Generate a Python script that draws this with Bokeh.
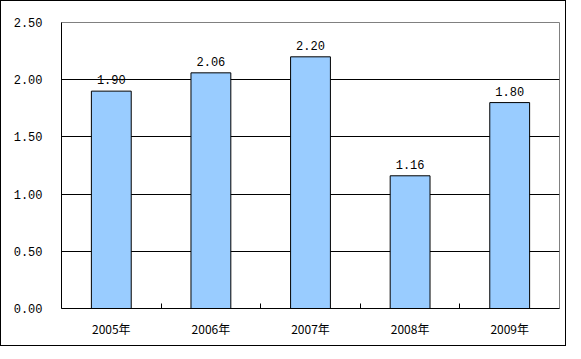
from bokeh.plotting import figure
from bokeh.models import ColumnDataSource, FixedTicker, NumeralTickFormatter, LabelSet, Range1d
from bokeh.core.properties import value
from bokeh.embed import file_html
from bokeh.resources import INLINE

years = ["2005年", "2006年", "2007年", "2008年", "2009年"]
values = [1.90, 2.06, 2.20, 1.16, 1.80]
value_labels = ["1.90", "2.06", "2.20", "1.16", "1.80"]
y_ticks = [0.0, 0.5, 1.0, 1.5, 2.0, 2.5]

xs = [i + 0.5 for i in range(len(years))]
src = ColumnDataSource(dict(x=xs, top=values, lab=value_labels))

p = figure(width=566, height=346, output_backend="svg", toolbar_location=None,
           x_range=Range1d(0, len(years)), y_range=Range1d(0, 2.5),
           min_border_left=60, min_border_right=8, min_border_top=21, min_border_bottom=39)
p.styles = {"border": "1px solid black", "box-sizing": "border-box"}
p.background_fill_color = "white"
p.border_fill_color = "white"
p.outline_line_color = "#808080"
p.outline_line_width = 1

p.vbar(x="x", top="top", width=0.4, bottom=0, source=src,
       fill_color="#99CCFF", line_color="black", line_width=1)

p.add_layout(LabelSet(x="x", y="top", text="lab", source=src, text_align="center",
                      text_baseline="bottom", y_offset=7, text_font=value("Liberation Mono"),
                      text_font_size=value("12px"), text_color=value("black")))

p.xgrid.visible = False
p.ygrid.ticker = FixedTicker(ticks=y_ticks[1:-1])
p.ygrid.grid_line_color = "black"
p.ygrid.grid_line_width = 1

xa = p.xaxis[0]
xa.ticker = FixedTicker(ticks=xs, minor_ticks=list(range(1, len(years))))
xa.major_label_overrides = {x: y for x, y in zip(xs, years)}
xa.major_tick_line_color = None
xa.minor_tick_line_color = "black"
xa.minor_tick_in = 5
xa.minor_tick_out = 0
xa.axis_line_color = "black"
xa.major_label_standoff = 5
xa.major_label_text_font = "Noto Sans CJK SC"
xa.major_label_text_font_size = "12px"
xa.major_label_text_color = "black"

ya = p.yaxis[0]
ya.ticker = FixedTicker(ticks=y_ticks)
ya.formatter = NumeralTickFormatter(format="0.00")
ya.major_tick_line_color = None
ya.minor_tick_line_color = None
ya.axis_line_color = "black"
ya.major_label_standoff = 13
ya.major_label_text_font = "Liberation Mono"
ya.major_label_text_font_size = "12px"
ya.major_label_text_color = "black"

open("out.html", "w").write(file_html(p, INLINE))
